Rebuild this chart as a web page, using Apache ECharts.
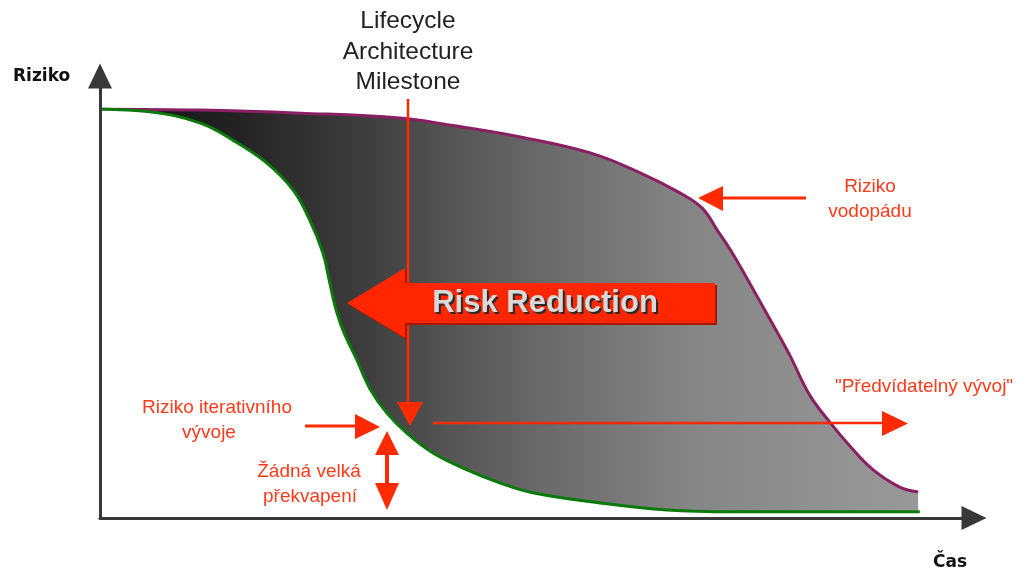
<!DOCTYPE html>
<html>
<head>
<meta charset="utf-8">
<script src="https://cdn.jsdelivr.net/npm/echarts@6/dist/echarts.min.js"></script>
<style>
html,body{margin:0;padding:0;background:#fff;}
#c{width:1025px;height:574px;}
</style>
</head>
<body>
<div id="c"></div>
<script>
// Time (0-100) vs risk (0-100)
const waterfallRisk = [
  [0,92.5],[11.4,92.3],[22.9,91.6],[34.3,90.5],[40.0,88.9],[48.1,86.2],[56.1,82.6],
  [61.8,78.1],[66.4,73.5],[68.9,70.1],[70.6,65.2],[72.4,59.8],[74.0,54.3],[76.3,46.2],
  [78.9,36.9],[81.2,27.8],[83.5,21.7],[85.8,16.3],[88.4,11.0],[91.5,7.0],[93.6,5.9]
];
const iterativeRisk = [
  [0,92.5],[5.7,91.9],[11.4,89.4],[15.2,85.5],[19.1,80.3],[22.1,74.2],[24.0,67.4],
  [25.5,60.0],[26.2,54.0],[26.9,47.9],[27.8,42.5],[29.4,35.7],[30.9,29.2],[32.8,23.8],
  [35.1,19.2],[38.1,14.7],[42.0,10.9],[45.8,7.9],[49.5,5.7],[57.2,3.4],[64.9,1.8],
  [72.4,1.4],[93.8,1.4]
];
const axisNames = ['Čas', 'Riziko'];
const milestoneLabel = 'Lifecycle\nArchitecture\nMilestone';

const RED = '#ff2a00';
const TXT_RED = '#ff3a1a';
const chart = echarts.init(document.getElementById('c'), null, {renderer:'canvas'});

function txt(x, y, s, opt) {
  return {
    type:'text', z:100,
    style: Object.assign({x:x, y:y, text:s, fill:TXT_RED, font:'19px "Liberation Sans", Arial, sans-serif',
      textAlign:'center', textVerticalAlign:'middle'}, opt || {})
  };
}
function poly(points, fill, z) {
  return {type:'polygon', z:z||100, shape:{points:points}, style:{fill:fill}};
}
function line(x1,y1,x2,y2,w,color,z) {
  return {type:'line', z:z||100, shape:{x1:x1,y1:y1,x2:x2,y2:y2}, style:{stroke:color||RED, lineWidth:w}};
}

const graphics = [
  // axis names
  {type:'text', z:100, style:{x:13, y:77, text:axisNames[1], fill:'#111', font:'bold 17px "DejaVu Sans", sans-serif', textVerticalAlign:'middle'}},
  {type:'text', z:100, style:{x:933, y:563, text:axisNames[0], fill:'#111', font:'bold 17px "DejaVu Sans", sans-serif', textVerticalAlign:'middle'}},
  // milestone
  {type:'text', z:100, style:{x:408, y:52, text:milestoneLabel, fill:'#222', font:'24.5px "Liberation Sans", Arial, sans-serif',
     textAlign:'center', textVerticalAlign:'middle', lineHeight:30.5}},
  line(408,99,408,404,2.5,RED,90),
  poly([[397,402],[423,402],[410,426]], RED, 90),
  // big Risk Reduction arrow
  poly([[349,305],[407,270],[407,285],[717,285],[717,325],[407,325],[407,340]], '#a81800', 95),
  poly([[347,303],[405,268],[405,283],[715,283],[715,323],[405,323],[405,338]], '#ff2600', 96),
  {type:'text', z:97, style:{x:547, y:305, text:'Risk Reduction', fill:'#2a2a2a', font:'bold 31px "Liberation Sans", Arial, sans-serif', textAlign:'center', textVerticalAlign:'middle'}},
  {type:'text', z:98, style:{x:545, y:303, text:'Risk Reduction', fill:'#d9d9d9', font:'bold 31px "Liberation Sans", Arial, sans-serif', textAlign:'center', textVerticalAlign:'middle'}},
  // Riziko vodopadu
  line(721,198,806,198,3),
  poly([[698,198],[723,186],[723,211]], RED),
  txt(870,187,'Riziko'),
  txt(870,212,'vodopádu'),
  // Predvidatelny vyvoj
  line(433,423,884,423,2.5),
  poly([[882,411],[882,436],[908,423.5]], RED),
  txt(924,387,'"Předvídatelný vývoj"'),
  // iterative risk
  line(305,426,357,426,3),
  poly([[355,414],[355,439],[380,427]], RED),
  txt(217,408,'Riziko iterativního'),
  txt(209,433,'vývoje'),
  // no surprises
  line(387,452,387,486,4),
  poly([[387,431],[375,455],[399,455]], RED),
  poly([[375,483],[399,483],[387,510]], RED),
  txt(309,472,'Žádná velká'),
  txt(310,497,'překvapení')
];

const axisCommon = {
  type:'value', min:0, max:100, z:5,
  axisLine:{show:true, onZero:false, symbol:['none','triangle'], symbolSize:[24,25], lineStyle:{color:'#383838', width:3}},
  axisTick:{show:false}, axisLabel:{show:false}, splitLine:{show:false}
};

chart.setOption({
  animation:false,
  backgroundColor:'#fff',
  grid:{left:100, right:51, top:76, bottom:56},
  xAxis: Object.assign({}, axisCommon),
  yAxis: Object.assign({}, axisCommon),
  series:[
    {
      name:'Riziko vodopádu', type:'line', data:waterfallRisk, smooth:0.4, showSymbol:false, z:2,
      lineStyle:{color:'#8a1f62', width:3},
      areaStyle:{opacity:1, color:{type:'linear', x:0, y:0, x2:1, y2:0, colorStops:[
        {offset:0, color:'#101010'},{offset:0.06, color:'#151515'},{offset:0.18, color:'#252525'},
        {offset:0.245, color:'#303030'},{offset:0.306, color:'#3a3a3a'},{offset:0.367, color:'#474747'},
        {offset:0.428, color:'#555555'},{offset:0.49, color:'#606060'},{offset:0.55, color:'#6b6b6b'},
        {offset:0.61, color:'#747474'},{offset:0.67, color:'#7e7e7e'},{offset:0.73, color:'#868686'},
        {offset:0.856, color:'#8f8f8f'},{offset:1, color:'#999999'}]}}
    },
    {
      name:'Riziko iterativního vývoje', type:'line', data:iterativeRisk, smooth:0.4, showSymbol:false, z:3,
      lineStyle:{color:'#0b7a0b', width:3},
      areaStyle:{opacity:1, color:'#ffffff'}
    }
  ],
  graphic: graphics
});
</script>
</body>
</html>
